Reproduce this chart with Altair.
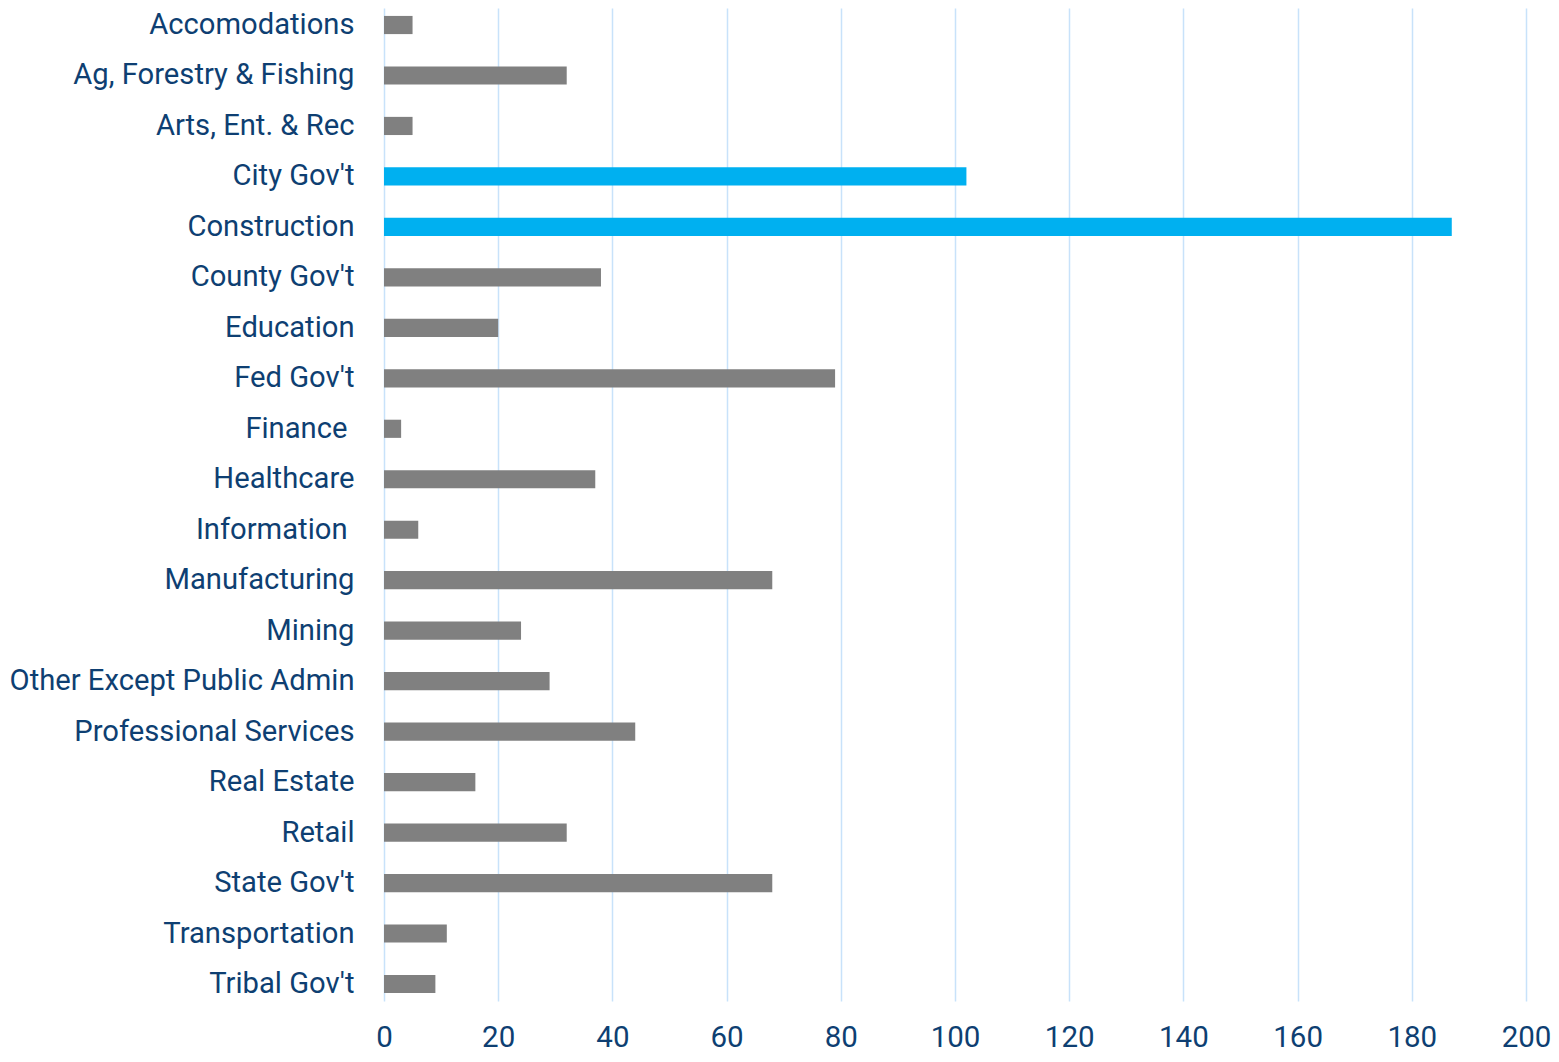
import altair as alt
import pandas as pd

categories = ["Accomodations", "Ag, Forestry & Fishing", "Arts, Ent. & Rec", "City Gov't",
              "Construction", "County Gov't", "Education", "Fed Gov't", "Finance",
              "Healthcare", "Information", "Manufacturing", "Mining",
              "Other Except Public Admin", "Professional Services", "Real Estate",
              "Retail", "State Gov't", "Transportation", "Tribal Gov't"]
values = [5, 32, 5, 102, 187, 38, 20, 79, 3, 37, 6, 68, 24, 29, 44, 16, 32, 68, 11, 9]
highlight = ["City Gov't", "Construction"]
x_ticks = [0, 20, 40, 60, 80, 100, 120, 140, 160, 180, 200]

df = pd.DataFrame({"category": categories, "value": values})
df["hl"] = df["category"].isin(highlight).map({True: "yes", False: "no"})

text_color = "#0E3F72"
font = "Roboto"

chart = alt.Chart(df).mark_bar().encode(
    y=alt.Y("category:N", sort=categories, title=None,
            scale=alt.Scale(paddingInner=0.64, paddingOuter=0.157),
            axis=alt.Axis(labelFontSize=29.2, labelColor=text_color, labelFont=font,
                          tickSize=0,
                          labelPadding={"condition": {"test": "datum.value == 'Finance' || datum.value == 'Information'",
                                                      "value": 37},
                                        "value": 30},
                          domain=False, grid=False, labelLimit=500)),
    x=alt.X("value:Q", title=None,
            scale=alt.Scale(domain=[0, 200], nice=False),
            axis=alt.Axis(values=x_ticks, labelFontSize=29.5,
                          labelColor=text_color, labelFont=font, tickSize=0,
                          labelPadding=22, labelFlush=False, domain=False, grid=True,
                          gridColor="#C8E2FA", gridWidth=1.5)),
    color=alt.Color("hl:N", scale=alt.Scale(domain=["no", "yes"], range=["#808080", "#00B0F0"]),
                    legend=None),
).properties(
    width=1142, height=993,
    autosize=alt.AutoSizeParams(type="none"),
    padding={"left": 376, "top": 0, "right": 25, "bottom": 53},
).configure_view(stroke=None)

chart.save("out.html", embed_options={"renderer": "svg", "actions": False})
